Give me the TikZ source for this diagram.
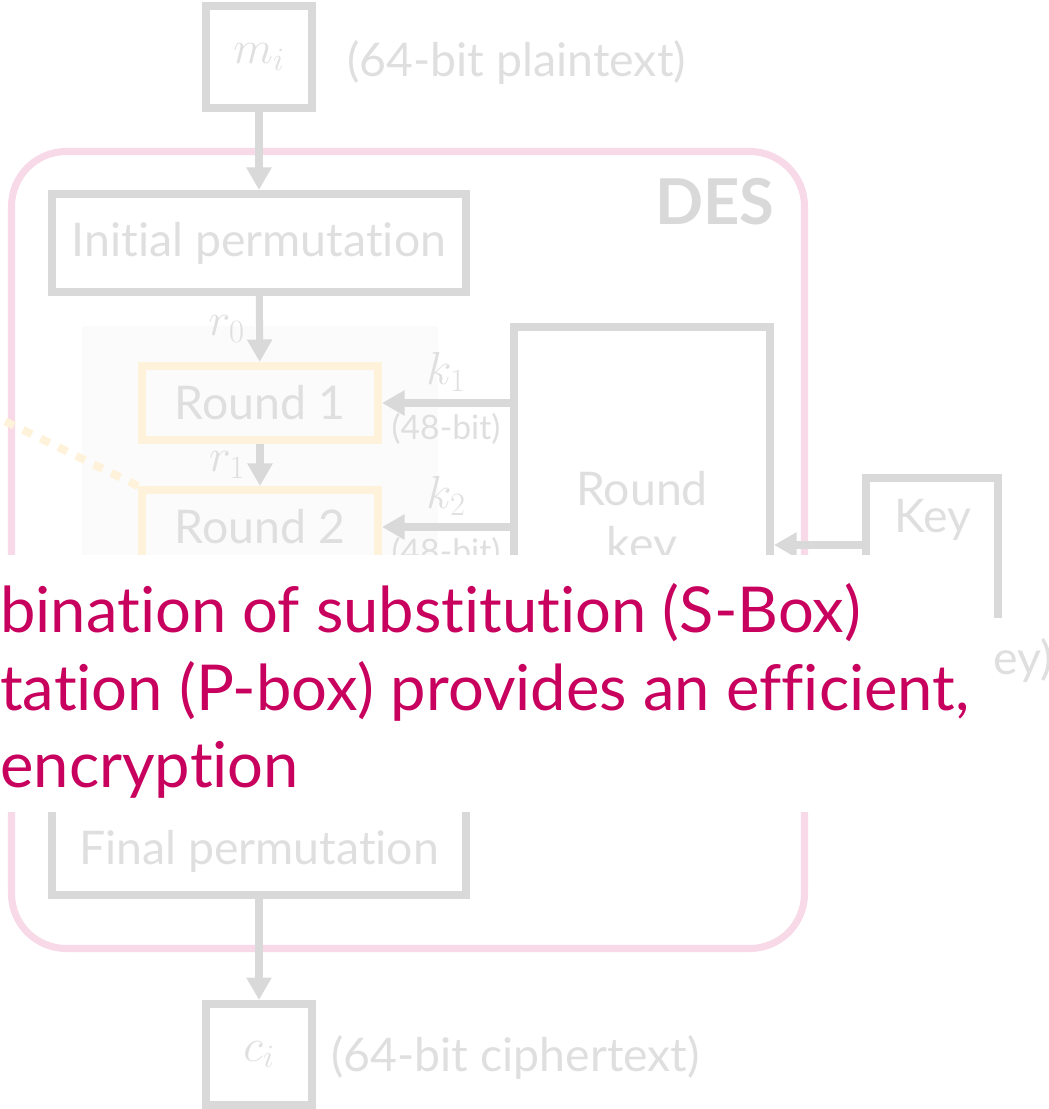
\RequirePackage{fix-cm}
\documentclass[tikz,border=0pt]{standalone}
\usepackage{fontspec}
\setmainfont{Lato}[Ligatures=NoCommon]
\usetikzlibrary{arrows.meta,positioning}

\definecolor{fadegray}{RGB}{217,217,217}
\definecolor{fadetext}{RGB}{223,223,223}
\definecolor{despink}{RGB}{247,217,231}
\definecolor{roundyellow}{RGB}{255,242,218}
\definecolor{notemagenta}{RGB}{200,0,94}
\definecolor{bggray}{RGB}{251,251,251}
\newcommand{\pxu}{0.025cm}

\begin{document}
\begin{tikzpicture}[x=0.025cm,y=-0.025cm,
  box/.style={draw=fadegray,line width=5.7pt,text=fadetext,inner sep=0pt,
    font=\fontsize{33}{39}\selectfont},
  rnd/.style={box,draw=roundyellow,minimum width=236*\pxu,minimum height=74*\pxu},
  flow/.style={draw=fadegray,line width=5pt,-{Triangle[length=16pt,width=17pt]}},
  lbl/.style={text=fadetext,inner sep=0pt,font=\fontsize{33}{39}\selectfont},
  small/.style={font=\fontsize{24}{28}\selectfont},
  note/.style={text=notemagenta,inner sep=0pt,anchor=base west,font=\fontsize{45}{55}\selectfont}]
\useasboundingbox (0,0) rectangle (1048,1109);
\clip (0,0) rectangle (1048,1109);

\draw[despink,line width=5pt,rounded corners=39pt] (11.5,151.5) rectangle (804.5,948.5);
\node[font=\bfseries\fontsize{45}{52}\selectfont,text=fadegray,inner sep=0pt] (des) at (715,202) {DES};

\fill[bggray] (82,326) rectangle (438,720);

\node[box,minimum width=106*\pxu,minimum height=102*\pxu] (mi) at (259,57) {$m_i$};
\node[lbl,anchor=west] (ptlbl) at (347,62) {(64-bit plaintext)};
\node[box,minimum width=414*\pxu,minimum height=98*\pxu] (ip) at (259,243) {Initial permutation};
\node[rnd] (r1) at (260,403) {Round 1};
\node[rnd] (r2) at (260,527) {Round 2};
\node[box,align=center,minimum width=256*\pxu,minimum height=386*\pxu] (rk) at (642,520) {Round\\key};
\node[box,minimum width=132*\pxu,minimum height=182*\pxu] (key) at (932,569) {};
\node[lbl] (keytxt) at (933,520) {Key};
\node[box,minimum width=414*\pxu,minimum height=88*\pxu] (fp) at (259,851) {Final permutation};
\node[box,minimum width=106*\pxu,minimum height=101*\pxu] (ci) at (259,1054.5) {$c_i$};
\node[lbl,anchor=west] (ctlbl) at (331,1057) {(64-bit ciphertext)};

\coordinate (zoomsrc) at (-20,409);
\coordinate (keyin) at (rk.east |- 0,545);

\draw[roundyellow,line width=5.7pt,dash pattern=on 7pt off 7pt] (r2.north west) -- (zoomsrc);

\draw[flow] (mi) -- (ip);
\draw[flow] (ip) -- (r1) node[lbl,midway,left=8pt] {$r_0$};
\draw[flow] (r1) -- (r2) node[lbl,midway,left=8pt] {$r_1$};
\draw[flow] (rk.west |- r1.east) -- (r1.east)
  node[lbl,midway,above=6pt] {$k_1$} node[lbl,small,midway,below=5pt] {(48-bit)};
\draw[flow] (rk.west |- r2.east) -- (r2.east)
  node[lbl,midway,above=6pt] {$k_2$} node[lbl,small,midway,below=5pt] {(48-bit)};
\draw[flow] (key.west |- keyin) -- (keyin);
\draw[flow] (fp) -- (ci);

\fill[white] (-5,555) rectangle (993,812);
\node[lbl,fill=white,anchor=west,minimum height=84*\pxu] (keylbl) at (993,660) {ey)};

\node[note] (note1) at (0,632) {bination of substitution (S-Box)};
\node[note] (note2) at (0,710) {tation (P-box) provides an efficient,};
\node[note] (note3) at (0,787) {encryption};
\end{tikzpicture}
\end{document}
